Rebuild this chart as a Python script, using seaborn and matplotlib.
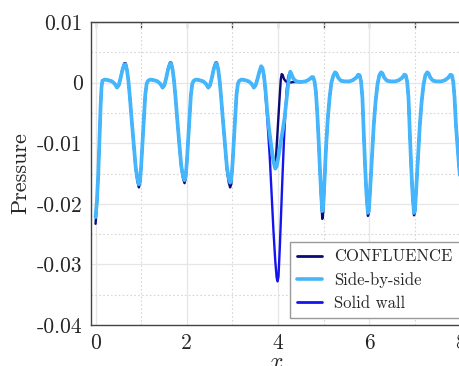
import matplotlib
matplotlib.use('Agg')
import matplotlib.pyplot as plt
from matplotlib.ticker import MultipleLocator, FixedLocator
import seaborn as sns
import pandas as pd

# series order in the legend
series = ['CONFLUENCE', 'Side-by-side', 'Solid wall']
colors = {'CONFLUENCE': '#0a0a78', 'Side-by-side': '#45b6fb', 'Solid wall': '#1414f0'}

# --- x from 0 to 3.51, same grid for every case ---
x_a = [0.00, 0.03, 0.06, 0.09, 0.11, 0.13, 0.15, 0.20, 0.28, 0.36, 0.42, 0.47, 0.51, 0.55, 0.59, 0.63,
       0.66, 0.69, 0.72, 0.75, 0.79, 0.84, 0.88, 0.92, 0.95, 0.975, 1.00, 1.03, 1.06, 1.09, 1.12,
       1.15, 1.20, 1.28, 1.36, 1.42, 1.47, 1.51, 1.55, 1.59, 1.63, 1.66, 1.69, 1.72, 1.75, 1.79,
       1.84, 1.88, 1.92, 1.95, 1.975, 2.00, 2.03, 2.06, 2.09, 2.12,
       2.15, 2.20, 2.28, 2.36, 2.42, 2.47, 2.51, 2.55, 2.59, 2.63, 2.66, 2.69, 2.72, 2.75, 2.79,
       2.84, 2.88, 2.92, 2.95, 2.975, 3.00, 3.03, 3.06, 3.09, 3.12,
       3.15, 3.20, 3.28, 3.36, 3.42, 3.47, 3.51]
p_a_side = [-0.0222, -0.0195, -0.0150, -0.0085, -0.0040, -0.0008, 0.0003, 0.0005, 0.0004, 0.0002, -0.0002,
            -0.0008, -0.0004, 0.0008, 0.0021, 0.0030, 0.0030, 0.0020, 0.0003, -0.0022, -0.0060, -0.0105,
            -0.0140, -0.0160, -0.0168, -0.0162, -0.0137, -0.0097, -0.0055, -0.0020, -0.0002,
            0.0003, 0.0005, 0.0004, 0.0002, -0.0002, -0.0008, -0.0004, 0.0008, 0.0022, 0.0031, 0.0031,
            0.0021, 0.0003, -0.0022, -0.0060, -0.0105, -0.0138, -0.0155, -0.0161, -0.0155, -0.0132,
            -0.0095, -0.0055, -0.0020, -0.0002,
            0.0003, 0.0005, 0.0004, 0.0002, -0.0002, -0.0008, -0.0004, 0.0008, 0.0022, 0.0031, 0.0031,
            0.0021, 0.0003, -0.0022, -0.0060, -0.0105, -0.0140, -0.0158, -0.0165, -0.0160, -0.0137,
            -0.0097, -0.0055, -0.0020, -0.0002,
            0.0003, 0.0005, 0.0004, 0.0002, -0.0002, -0.0008, -0.0004]
p_a_conf = [-0.0233, -0.0200, -0.0152, -0.0086, -0.0040, -0.0008, 0.0003, 0.0005, 0.0004, 0.0002, -0.0002,
            -0.0009, -0.0005, 0.0008, 0.0023, 0.0032, 0.0032, 0.0021, 0.0003, -0.0022, -0.0061, -0.0107,
            -0.0143, -0.0164, -0.0173, -0.0166, -0.0140, -0.0098, -0.0056, -0.0020, -0.0002,
            0.0003, 0.0005, 0.0004, 0.0002, -0.0002, -0.0009, -0.0005, 0.0008, 0.0024, 0.0033, 0.0033,
            0.0022, 0.0003, -0.0022, -0.0061, -0.0107, -0.0141, -0.0159, -0.0166, -0.0159, -0.0135,
            -0.0096, -0.0055, -0.0020, -0.0002,
            0.0003, 0.0005, 0.0004, 0.0002, -0.0002, -0.0009, -0.0005, 0.0008, 0.0024, 0.0033, 0.0033,
            0.0022, 0.0003, -0.0022, -0.0061, -0.0108, -0.0145, -0.0165, -0.0173, -0.0167, -0.0141,
            -0.0099, -0.0056, -0.0020, -0.0002,
            0.0003, 0.0005, 0.0004, 0.0002, -0.0002, -0.0009, -0.0005]

# --- x from 3.55 to 4.40, where the three cases part ---
x_b_side = [3.55, 3.59, 3.63, 3.66, 3.69, 3.72, 3.76, 3.80, 3.85, 3.90, 3.94, 3.97, 4.01, 4.06, 4.10,
            4.14, 4.18, 4.22, 4.25, 4.27, 4.30, 4.34, 4.40]
p_b_side = [0.0006, 0.0018, 0.0027, 0.0024, 0.0012, -0.0008, -0.0045, -0.0075, -0.0104, -0.0130, -0.0142,
            -0.0138, -0.0122, -0.0098, -0.0080, -0.0060, -0.0032, -0.0005, 0.0012, 0.0018, 0.0013, 0.0006,
            0.0002]
x_b_conf = [3.55, 3.59, 3.63, 3.66, 3.69, 3.72, 3.76, 3.80, 3.85, 3.89, 3.93, 3.96, 4.00, 4.03, 4.06,
            4.08, 4.10, 4.13, 4.17, 4.25, 4.35]
p_b_conf = [0.0006, 0.0017, 0.0025, 0.0023, 0.0011, -0.0009, -0.0046, -0.0076, -0.0104, -0.0125, -0.0134,
            -0.0118, -0.0066, -0.0030, 0.0005, 0.0014, 0.0013, 0.0006, 0.0002, 0.0000, 0.0001]
x_b_wall = [3.55, 3.59, 3.63, 3.66, 3.69, 3.72, 3.77, 3.82, 3.86, 3.90, 3.94, 3.97, 3.99, 4.01, 4.04,
            4.07, 4.10, 4.13, 4.16, 4.19, 4.22, 4.25, 4.27, 4.30, 4.34, 4.40]
p_b_wall = [0.0006, 0.0017, 0.0025, 0.0023, 0.0011, -0.0015, -0.0065, -0.0125, -0.0185, -0.0245, -0.0295,
            -0.0322, -0.0328, -0.0320, -0.0270, -0.0210, -0.0150, -0.0095, -0.0050, -0.0012, 0.0008,
            0.0016, 0.0018, 0.0013, 0.0006, 0.0002]

# --- x from 4.50 to 8.03, same grid again ---
x_c = [4.50, 4.60, 4.68, 4.74, 4.77, 4.80, 4.83, 4.86, 4.89, 4.92, 4.95, 4.97, 4.99, 5.02, 5.05, 5.09,
       5.13, 5.17, 5.21, 5.25, 5.28, 5.32, 5.38, 5.46,
       5.56, 5.64, 5.71, 5.76, 5.79, 5.82, 5.85, 5.88, 5.91, 5.94, 5.97, 5.99, 6.02, 6.06, 6.10, 6.14,
       6.18, 6.22, 6.26, 6.29, 6.33, 6.39, 6.47,
       6.57, 6.65, 6.72, 6.77, 6.80, 6.83, 6.86, 6.89, 6.92, 6.95, 6.98, 7.00, 7.03, 7.07, 7.11, 7.15,
       7.19, 7.23, 7.27, 7.30, 7.34, 7.40, 7.48,
       7.58, 7.66, 7.73, 7.78, 7.81, 7.84, 7.87, 7.90, 7.94, 7.97, 8.00, 8.03]
p_c_side = [0.0001, 0.0002, 0.0005, 0.0009, 0.0009, 0.0002, -0.0015, -0.0050, -0.0095, -0.0145, -0.0190,
            -0.0212, -0.0205, -0.0160, -0.0110, -0.0060, -0.0025, 0.0000, 0.0011, 0.0017, 0.0015, 0.0008,
            0.0003, 0.0002,
            0.0002, 0.0004, 0.0008, 0.0013, 0.0012, 0.0002, -0.0025, -0.0085, -0.0140, -0.0185, -0.0215,
            -0.0212, -0.0175, -0.0120, -0.0068, -0.0030, -0.0003, 0.0012, 0.0017, 0.0015, 0.0008, 0.0003,
            0.0002,
            0.0002, 0.0004, 0.0008, 0.0013, 0.0012, 0.0002, -0.0025, -0.0085, -0.0140, -0.0185, -0.0215,
            -0.0212, -0.0175, -0.0120, -0.0068, -0.0030, -0.0003, 0.0012, 0.0017, 0.0015, 0.0008, 0.0003,
            0.0002,
            0.0002, 0.0004, 0.0008, 0.0013, 0.0012, 0.0002, -0.0025, -0.0070, -0.0110, -0.0140, -0.0160,
            -0.0180]
p_c_conf = [0.0001, 0.0002, 0.0005, 0.0009, 0.0009, 0.0002, -0.0015, -0.0051, -0.0098, -0.0150, -0.0198,
            -0.0225, -0.0215, -0.0166, -0.0112, -0.0061, -0.0025, 0.0000, 0.0011, 0.0017, 0.0015, 0.0008,
            0.0003, 0.0002,
            0.0002, 0.0004, 0.0008, 0.0013, 0.0012, 0.0002, -0.0025, -0.0087, -0.0143, -0.0190, -0.0220,
            -0.0216, -0.0178, -0.0121, -0.0068, -0.0030, -0.0003, 0.0012, 0.0017, 0.0015, 0.0008, 0.0003,
            0.0002,
            0.0002, 0.0004, 0.0008, 0.0013, 0.0012, 0.0002, -0.0025, -0.0087, -0.0143, -0.0190, -0.0219,
            -0.0215, -0.0177, -0.0121, -0.0068, -0.0030, -0.0003, 0.0012, 0.0017, 0.0015, 0.0008, 0.0003,
            0.0002,
            0.0002, 0.0004, 0.0008, 0.0013, 0.0012, 0.0002, -0.0025, -0.0071, -0.0111, -0.0141, -0.0161,
            -0.0181]

xticks = [0, 2, 4, 6, 8]
xticklabels = ['0', '2', '4', '6', '8']
yticks = [-0.04, -0.03, -0.02, -0.01, 0.0, 0.01]
yticklabels = ['-0.04', '-0.03', '-0.02', '-0.01', '0', '0.01']

curves = {
    'CONFLUENCE': (x_a + x_b_conf + x_c, p_a_conf + p_b_conf + p_c_conf),
    'Side-by-side': (x_a + x_b_side + x_c, p_a_side + p_b_side + p_c_side),
    'Solid wall': (x_a + x_b_wall + x_c, p_a_side + p_b_wall + p_c_side),
}
df = pd.concat([pd.DataFrame({'x': cx, 'p': cy, 'case': name}) for name, (cx, cy) in curves.items()])

sns.set_style('white')
plt.rcParams['font.family'] = 'serif'
plt.rcParams['font.serif'] = ['cmr10']
plt.rcParams['mathtext.fontset'] = 'cm'
plt.rcParams['axes.unicode_minus'] = False

fig = plt.figure(figsize=(4.6, 3.66), dpi=100)
ax = fig.add_axes([91 / 460, 41 / 366, 369.5 / 460, 303 / 366])

# drawing order: confluence, solid wall, then the thick side-by-side on top
widths = {'CONFLUENCE': 1.7, 'Side-by-side': 2.7, 'Solid wall': 1.7}
for name in ['CONFLUENCE', 'Solid wall', 'Side-by-side']:
    sns.lineplot(data=df[df['case'] == name], x='x', y='p', color=colors[name], lw=widths[name],
                 estimator=None, sort=False, label=name, ax=ax)

ax.set_xlim(-0.1, 8.0)
ax.set_ylim(-0.04, 0.01)
ax.xaxis.set_major_locator(FixedLocator(xticks))
ax.set_xticklabels(xticklabels)
ax.xaxis.set_minor_locator(MultipleLocator(1))
ax.yaxis.set_major_locator(FixedLocator(yticks))
ax.set_yticklabels(yticklabels)
ax.yaxis.set_minor_locator(MultipleLocator(0.005))

ax.grid(which='major', color='#e6e6e6', lw=0.9, ls='-')
ax.grid(which='minor', color='#d6d6d6', lw=0.8, ls=(0, (1.5, 2)))
ax.set_axisbelow(True)

for s in ['left', 'bottom', 'top']:
    ax.spines[s].set_color('#444444')
    ax.spines[s].set_linewidth(1.0)
ax.spines['right'].set_visible(False)

ax.tick_params(axis='both', which='major', direction='inout', length=8, width=0.9, color='#444444',
               labelsize=15.5, pad=2, right=False, top=False)
ax.tick_params(axis='y', which='minor', direction='in', length=4, width=0.8, color='#444444', right=False)
ax.tick_params(axis='x', which='minor', direction='inout', length=6, width=0.8, color='#444444', top=False)

top = ax.secondary_xaxis('top')
top.set_xticks(list(range(0, 9)))
top.tick_params(direction='in', length=4, width=0.9, color='#444444', labeltop=False)
top.spines['top'].set_color('#444444')

ax.set_xlabel('$x$', fontsize=17, labelpad=-1)
ax.set_ylabel('Pressure', fontsize=16, labelpad=5)

handles, labels = ax.get_legend_handles_labels()
order = [labels.index(s) for s in series]
leg = ax.legend([handles[i] for i in order], series, loc='lower right', bbox_to_anchor=(0.998, 0.023),
                fontsize=12, frameon=True, fancybox=False, edgecolor='#999999', framealpha=1,
                handlelength=1.5, handletextpad=0.7, labelspacing=0.45, borderpad=0.45, borderaxespad=0.0)
leg.get_frame().set_linewidth(1.0)
for line in leg.get_lines():
    line.set_linewidth(2.0)
leg.get_lines()[1].set_linewidth(2.6)

fig.savefig('out.png', dpi=100)
